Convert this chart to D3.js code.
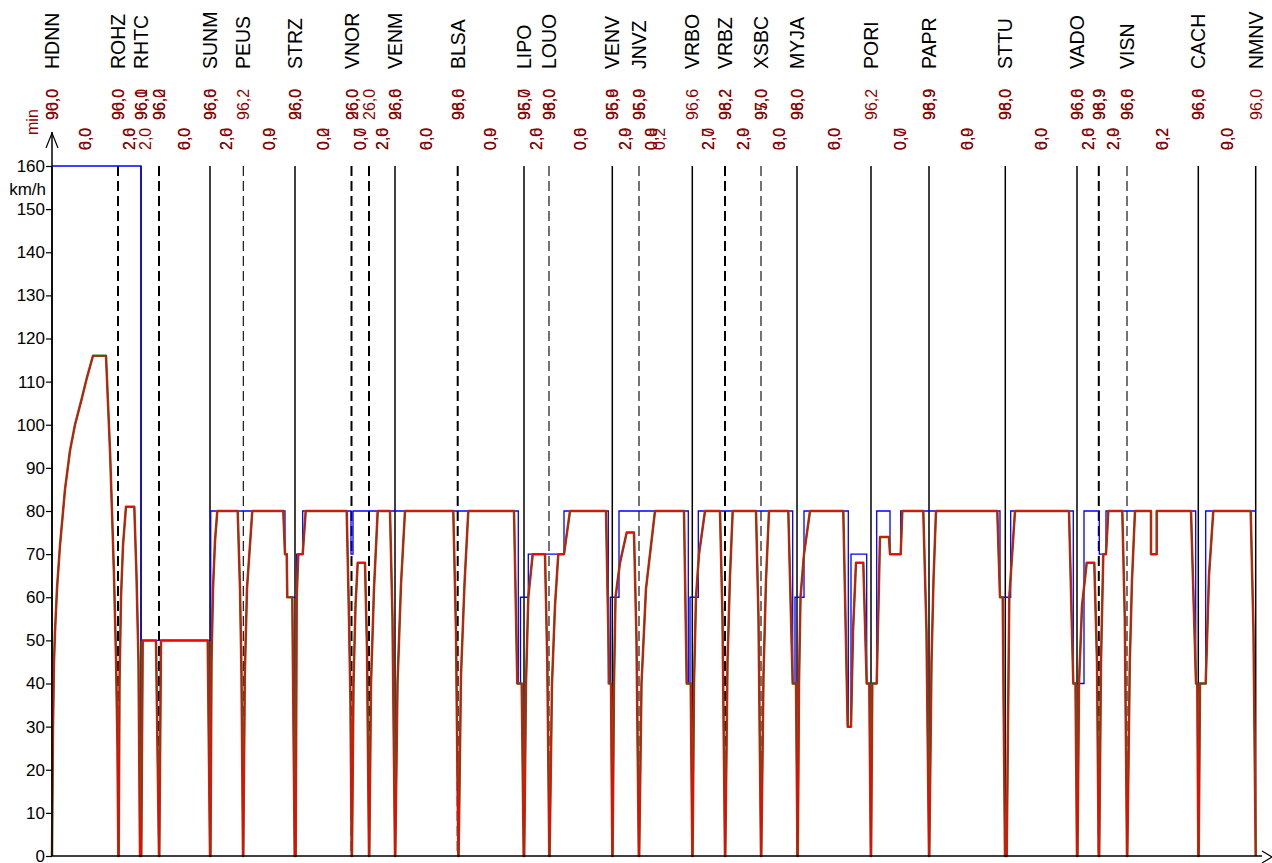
<!DOCTYPE html>
<html>
<head>
<meta charset="utf-8">
<script src="https://cdn.jsdelivr.net/npm/d3@7"></script>
<style>
  html, body { margin: 0; padding: 0; background: #fff; }
  svg { display: block; font-family: "Liberation Sans", Arial, sans-serif; }
</style>
</head>
<body>
<svg id="chart" width="1272" height="863"></svg>
<script>
// Stations along the route (km from HDNN) and their codes
const stationKm   = [0, 6.6, 8.9, 10.7, 15.8, 19.13, 24.3, 29.95, 31.7, 34.3, 40.57, 47.2, 49.7, 56.03, 58.7, 64.03, 67.3, 70.9, 74.5, 81.9, 87.7, 95.33, 102.5, 104.68, 107.5, 114.63, 120.37];
const stationCode = ["HDNN", "ROHZ", "RHTC", "", "SUNM", "PEUS", "STRZ", "VNOR", "", "VENM", "BLSA", "LIPO", "LOUO", "VENV", "JNVZ", "VRBO", "VRBZ", "XSBC", "MYJA", "PORI", "PAPR", "STTU", "VADO", "", "VISN", "CACH", "NMNV"];
// stop = scheduled stop, pass = passing point, halt = request halt
const stationKind = ["stop", "pass", "stop", "pass", "stop", "halt", "stop", "pass", "pass", "stop", "pass", "stop", "halt", "stop", "halt", "stop", "pass", "halt", "stop", "stop", "stop", "stop", "stop", "pass", "halt", "stop", "stop"];
// Times at each station (minutes); "a|b" = two values printed on top of each other
const stationTime = ["96,0|90,0", "96,0|90,0", "96,0|96,1", "96,0|96,2", "96,0|96,6", "96,2", "96,0|26,0", "96,0|26,0", "26,0", "96,0|26,6", "96,0|98,6", "95,7|96,0", "96,0|98,0", "96,9|95,6", "95,9|96,0", "96,6", "96,2|98,2", "95,0|97,0", "96,0|98,0", "96,2", "96,9|98,9", "96,0|98,0", "96,6|96,0", "98,9|96,9", "96,0|96,6", "96,6|96,0", "96,0"];

// Section times (minutes) printed between stations
const sectionKm   = [3.3, 7.75, 9.3, 13.25, 17.45, 21.7, 27.1, 30.8, 33.0, 37.45, 43.85, 48.45, 52.85, 57.35, 59.9, 60.7, 65.65, 69.1, 72.7, 78.2, 84.8, 91.5, 98.9, 103.6, 106.1, 111.05, 117.5];
const sectionTime = ["0,0|6,0", "2,0|2,6", "2,0", "0,0|6,0", "2,0|2,6", "0,0|0,9", "0,2|0,0", "0,7|0,0", "2,0|2,6", "0,0|6,0", "0,0|0,9", "2,0|2,6", "0,0|0,6", "2,0|2,9", "0,0|0,8", "0,2", "2,7|2,0", "2,0|2,9", "0,0|3,0", "0,0|6,0", "0,7|0,0", "0,0|6,9", "0,0|6,0", "2,0|2,6", "2,0|2,9", "0,2|6,2", "0,0|9,0"];

const speedTicks = [0, 10, 20, 30, 40, 50, 60, 70, 80, 90, 100, 110, 120, 130, 140, 150, 160];

// Line speed limit [km, km/h]
const speedLimit = [
  [0,160],[8.9,160],[8.9,50],[15.87,50],[15.87,80],[23.3,80],[23.3,70],[23.53,70],[23.53,60],[24.47,60],[24.47,70],[25.07,70],[25.07,80],
  [29.9,80],[29.9,70],[30.1,70],[30.1,80],[46.63,80],[46.63,40],[46.85,40],[46.85,60],[47.63,60],[47.63,70],[51.2,70],[51.2,80],
  [55.63,80],[55.63,40],[55.83,40],[55.83,60],[56.7,60],[56.7,80],[63.63,80],[63.63,40],[63.8,40],[63.8,60],[64.63,60],[64.63,80],
  [74.07,80],[74.07,40],[74.3,40],[74.3,60],[75.2,60],[75.2,80],[79.63,80],[79.63,30],[79.9,30],[79.9,70],[81.47,70],[81.47,40],
  [82.47,40],[82.47,80],[83.8,80],[83.8,70],[84.87,70],[84.87,80],[94.8,80],[94.8,60],[95.87,60],[95.87,80],[102.13,80],[102.13,40],
  [103.2,40],[103.2,80],[104.73,80],[104.73,70],[105.4,70],[105.4,80],[109.9,80],[109.9,70],[110.47,70],[110.47,80],
  [114.37,80],[114.37,40],[115.37,40],[115.37,80],[120.4,80]
];

// Train run speed [km, km/h]
const runSpeed = [
  [0,0],[0.1,30],[0.2,45],[0.3,52],[0.5,62],[0.8,72],[1.3,85],[1.8,94],[2.3,100],[2.97,106],[3.5,111],[4.1,116],[5.4,116],[5.8,94],[6.0,80],[6.2,65],[6.4,46],[6.55,25],[6.63,0],
  [6.67,0],[6.75,40],[6.9,60],[7.1,72],[7.4,81],[8.23,81],[8.45,65],[8.65,45],[8.8,0],
  [8.93,0],[9.07,50],[10.4,50],[10.7,0],[10.73,0],[10.9,50],[15.57,50],[15.8,0],[15.85,0],[15.95,45],[16.1,62],[16.3,73],[16.53,80],
  [18.57,80],[18.8,62],[18.95,42],[19.1,0],[19.13,0],[19.28,42],[19.5,62],[20.03,80],
  [23.13,80],[23.3,70],[23.47,70],[23.53,60],[24.03,60],[24.27,0],[24.37,0],[24.47,60],[24.63,70],[25.07,70],[25.37,80],
  [29.47,80],[29.7,55],[29.85,35],[29.97,0],[30.0,0],[30.15,40],[30.35,58],[30.57,68],[31.3,68],[31.5,48],[31.7,0],[31.73,0],[31.9,40],[32.2,62],[32.57,80],
  [33.8,80],[34.05,55],[34.3,0],[34.33,0],[34.55,40],[34.9,63],[35.3,80],
  [40.13,80],[40.4,52],[40.63,0],[40.66,0],[40.9,42],[41.25,63],[41.63,80],
  [46.2,80],[46.53,40],[46.97,40],[47.17,0],[47.22,0],[47.4,40],[47.63,60],[48.07,70],[49.3,70],[49.53,45],[49.73,0],[49.76,0],[50.0,40],[50.3,58],[50.63,70],[51.2,70],[51.8,80],
  [55.4,80],[55.73,40],[55.9,40],[56.03,0],[56.06,0],[56.2,40],[56.35,60],[56.8,68],[57.47,75],[58.2,75],[58.45,50],[58.68,0],[58.72,0],[58.95,40],[59.4,62],[60.3,80],
  [63.2,80],[63.47,40],[63.87,40],[64.03,0],[64.06,0],[64.2,40],[64.4,60],[64.7,70],[65.3,80],
  [66.8,80],[67.05,55],[67.3,0],[67.33,0],[67.55,45],[67.8,65],[68.07,80],
  [70.4,80],[70.65,55],[70.9,0],[70.93,0],[71.15,42],[71.4,64],[71.7,80],
  [73.63,80],[74.07,40],[74.4,40],[74.55,0],[74.58,0],[74.7,40],[74.85,60],[75.2,70],[75.8,80],
  [79.13,80],[79.57,30],[79.9,30],[80.1,52],[80.4,68],[81.13,68],[81.47,40],[81.73,40],[81.88,0],[81.91,0],[82.03,40],[82.47,40],[82.8,74],[83.7,74],[83.8,70],[84.87,70],[85.03,80],
  [87.13,80],[87.45,52],[87.7,0],[87.73,0],[87.95,45],[88.15,64],[88.4,80],
  [94.53,80],[94.8,60],[95.07,60],[95.3,0],[95.47,0],[95.73,60],[96.3,80],
  [101.7,80],[102.13,40],[102.35,40],[102.5,0],[102.55,0],[102.7,40],[103.0,58],[103.47,68],[104.23,68],[104.5,45],[104.67,0],[104.72,0],[104.9,45],[105.13,70],[105.4,70],[105.63,80],
  [107.03,80],[107.28,55],[107.5,0],[107.53,0],[107.78,45],[108.0,64],[108.3,80],
  [109.9,80],[109.9,70],[110.47,70],[110.47,80],
  [113.9,80],[114.4,40],[114.53,40],[114.63,0],[114.67,0],[114.8,40],[115.37,40],[115.7,65],[116.13,80],
  [119.87,80],[120.15,52],[120.37,0]
];

const svg = d3.select("#chart");
const x = d3.scaleLinear().domain([0, 121]).range([52, 1262]);
const y = d3.scaleLinear().domain([0, 160]).range([856, 166]);

const timeColor = "#8b0000";
const kindStyle = {
  stop: { width: 1.5, dash: null },
  pass: { width: 2, dash: "10,5" },
  halt: { width: 1.1, dash: "10,5" }
};

// station verticals
svg.append("g").selectAll("line")
  .data(stationKm.map((km, i) => ({ km, kind: stationKind[i] })))
  .join("line")
  .attr("x1", d => x(d.km)).attr("x2", d => x(d.km))
  .attr("y1", y(160)).attr("y2", y(0))
  .attr("stroke", "#000")
  .attr("stroke-width", d => kindStyle[d.kind].width)
  .attr("stroke-dasharray", d => kindStyle[d.kind].dash);

// speed lines
const line = d3.line().x(d => x(d[0])).y(d => y(d[1]));
svg.append("path").datum(speedLimit).attr("d", line)
  .attr("fill", "none").attr("stroke", "#0000ff").attr("stroke-width", 1.3);
svg.append("path").datum(runSpeed).attr("d", line)
  .attr("fill", "none").attr("stroke", "#2a7a2a").attr("stroke-width", 2.5).attr("stroke-linejoin", "round");
svg.append("path").datum(runSpeed).attr("d", line)
  .attr("fill", "none").attr("stroke", "#ff0000").attr("stroke-width", 1.5).attr("stroke-linejoin", "round");

// axes
const yAxis = d3.axisLeft(y).tickValues(speedTicks).tickSize(6).tickSizeOuter(0).tickPadding(1);
const ga = svg.append("g").attr("transform", `translate(${x(0)},0)`).call(yAxis);
ga.select(".domain").remove();
ga.selectAll("text").attr("font-size", 17).attr("fill", "#000").attr("font-family", "Liberation Sans, Arial, sans-serif");
ga.selectAll("line").attr("stroke", "#000").attr("stroke-width", 1.2);

svg.append("path")
  .attr("d", `M${x(0)},${y(0)}V132`)
  .attr("stroke", "#000").attr("stroke-width", 1.5).attr("fill", "none");
svg.append("path")
  .attr("d", `M${x(0) - 6},148L${x(0)},133L${x(0) + 6},148`)
  .attr("stroke", "#000").attr("stroke-width", 1.2).attr("fill", "none");
svg.append("path")
  .attr("d", `M${x(0)},${y(0)}H${x(121)}`)
  .attr("stroke", "#000").attr("stroke-width", 1.5).attr("fill", "none");
svg.append("path")
  .attr("d", `M${x(121)},851L${x(121) + 10},857L${x(121)},863`)
  .attr("stroke", "#000").attr("stroke-width", 1.2).attr("fill", "none");

svg.append("text").attr("x", 46).attr("y", 195).attr("text-anchor", "end")
  .attr("font-size", 17).text("km/h");
svg.append("text").attr("transform", "translate(37.5,135) rotate(-90)")
  .attr("font-size", 16).attr("fill", timeColor).text("min");

// station codes
svg.append("g").selectAll("text")
  .data(stationKm.map((km, i) => ({ km, code: stationCode[i] })).filter(d => d.code))
  .join("text")
  .attr("transform", d => `translate(${x(d.km) + 7},69) rotate(-90)`)
  .attr("font-size", 19.5).attr("fill", "#000")
  .text(d => d.code);

// stacked time labels
function timeLabels(kms, labels, baseY, dx) {
  const items = [];
  kms.forEach((km, i) => labels[i].split("|").forEach(t => items.push({ km, t })));
  svg.append("g").selectAll("text").data(items).join("text")
    .attr("transform", d => `translate(${x(d.km) + dx},${baseY}) rotate(-90)`)
    .attr("font-size", 16).attr("fill", timeColor)
    .text(d => d.t);
}
timeLabels(stationKm, stationTime, 120, 6);
timeLabels(sectionKm, sectionTime, 150, 5.5);
</script>
</body>
</html>
